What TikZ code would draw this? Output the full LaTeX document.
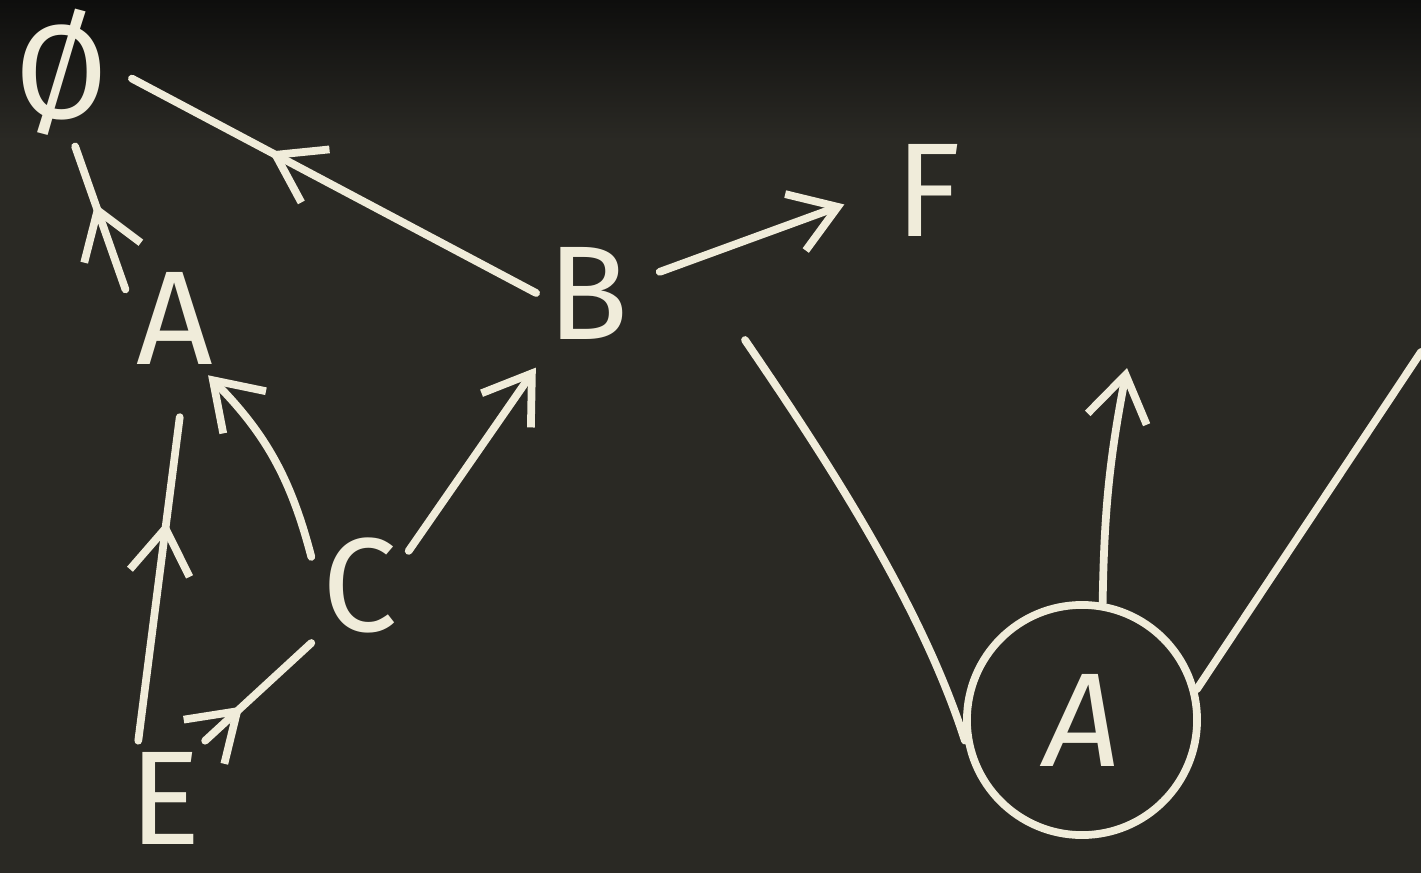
\documentclass[tikz,border=0pt]{standalone}
\usepackage{fontspec}
\setmainfont{Fira Sans}
\usetikzlibrary{arrows.meta,decorations.markings}
\definecolor{tableau}{RGB}{42,41,36}
\definecolor{tableauhaut}{RGB}{14,14,13}
\definecolor{craie}{RGB}{240,236,218}
\tikzset{craietip/.tip={Straight Barb[length=4.5mm,width=6mm]}}

\begin{document}
\begin{tikzpicture}[x=0.01cm,y=-0.01cm,
    lettre/.style={text=craie,font=\fontsize{38}{40}\selectfont,inner sep=3pt},
    trait/.style={color=craie,line width=2.2pt,line cap=round,line join=round},
    fleche/.style={trait,-craietip},
    milieu/.style={trait,postaction={decorate},
      decoration={markings,mark=at position #1 with {\arrow{craietip}}}}]
  % Tableau
  \fill[tableau] (0,0) rectangle (1421,873);
  \shade[top color=tableauhaut,bottom color=tableau] (0,0) rectangle (1421,140);
  \useasboundingbox (0,0) rectangle (1421,873);

  % Lettres
  \node[lettre] (vide) at (62,72) {Ø};
  \node[lettre] (a) at (175,318) {A};
  \node[lettre] (b) at (588,293) {B};
  \node[lettre] (f) at (928,190) {F};
  \node[lettre] (c) at (360,585) {C};
  \node[lettre] (e) at (165,798) {E};
  \node[lettre,draw=craie,line width=2.2pt,circle,minimum size=2.3cm] (racine) at (1082,720) {\itshape A};

  % Points libres
  \coordinate (gauche) at (745,340);
  \coordinate (droite) at (1421,352);
  \coordinate (haut) at (1127,368);

  % Aretes vers Ø
  \draw[milieu=0.6] (a.150) -- (vide.280);
  \draw[milieu=0.64,shorten >=4pt] (b.west) -- (vide.east);

  % Fleches
  \draw[fleche,shorten <=6pt,shorten >=12pt] (b.15) -- (f.west);
  \draw[fleche] (c.150) to[bend right=15] (a.-60);
  \draw[fleche,shorten >=6pt] (c.35) -- (b.235);
  \draw[milieu=0.6,shorten >=12pt] (e.115) -- (a.-80);
  \draw[milieu=0.35] (e.55) -- (c.230);

  % Sous-arbre
  \draw[trait] (gauche) .. controls (820,450) and (920,600) .. (racine.190);
  \draw[trait] (racine.15) -- (droite);
  \draw[fleche] (racine.80) to[bend left=5] (haut);
\end{tikzpicture}
\end{document}
